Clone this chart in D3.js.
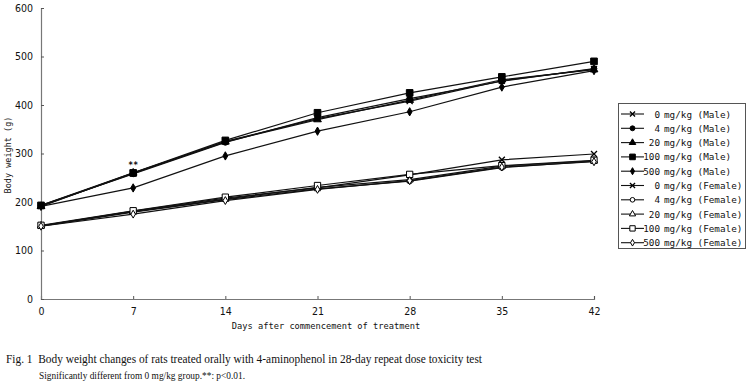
<!DOCTYPE html>
<html><head><meta charset="utf-8">
<script src="https://cdn.jsdelivr.net/npm/d3@7"></script>
<style>body{margin:0;background:#fff}svg{display:block}</style>
</head><body>
<svg id="c" width="750" height="392"></svg>
<script>
const days = [0, 7, 14, 21, 28, 35, 42];
const yTicks = [0, 100, 200, 300, 400, 500, 600];
const doses = ["0", "4", "20", "100", "500"];
const maleValues = [
  [192, 259, 325, 372, 408, 450, 474],
  [193, 258, 323, 374, 413, 449, 475],
  [191, 260, 324, 370, 410, 452, 473],
  [193, 260, 327, 384, 425, 458, 490],
  [191, 229, 295, 346, 386, 437, 471]
];
const femaleValues = [
  [151, 181, 208, 229, 256, 287, 299],
  [150, 179, 205, 227, 243, 271, 284],
  [151, 180, 206, 230, 246, 274, 285],
  [152, 182, 210, 234, 257, 275, 286],
  [150, 175, 203, 226, 244, 272, 283]
];
const markerShapes = ["x", "circle", "triangle", "square", "diamond"];

const svg = d3.select("#c");
const x = d3.scaleLinear().domain([0, 42]).range([41, 594]);
const y = d3.scaleLinear().domain([0, 600]).range([299, 8]);
const axisFont = "'DejaVu Sans Mono','Liberation Mono',monospace";

// axes
const gx = svg.append("g").attr("transform", `translate(0,${y(0)})`)
  .call(d3.axisBottom(x).tickValues(days).tickSize(-3).tickPadding(9).tickFormat(d3.format("d")));
const gy = svg.append("g").attr("transform", `translate(${x(0)},0)`)
  .call(d3.axisLeft(y).tickValues(yTicks).tickSize(-3).tickPadding(8).tickFormat(d3.format("d")));
[gx, gy].forEach(g => {
  g.select(".domain").attr("stroke", "#777").attr("stroke-width", 1.2);
  g.selectAll(".tick line").attr("stroke", "#555");
  g.selectAll(".tick text").attr("font-family", "'Liberation Sans Narrow','DejaVu Sans Condensed',sans-serif")
    .attr("font-size", 10.5).attr("fill", "#111");
});

svg.append("text").attr("transform", `translate(11,155) rotate(-90)`)
  .attr("text-anchor", "middle").attr("font-family", axisFont).attr("font-size", 8.5)
  .attr("fill", "#111").text("Body weight (g)");
svg.append("text").attr("x", 326).attr("y", 329).attr("text-anchor", "middle")
  .attr("font-family", axisFont).attr("font-size", 8.7).attr("fill", "#111")
  .text("Days after commencement of treatment");

function marker(g, shape, filled, cx, cy, scale = 1) {
  const fill = filled ? "#000" : "#fff";
  if (shape === "x") {
    const s = 3 * scale;
    g.append("path").attr("d", `M${cx-s},${cy-s}L${cx+s},${cy+s}M${cx-s},${cy+s}L${cx+s},${cy-s}`)
      .attr("stroke", "#000").attr("stroke-width", 1.3).attr("fill", "none");
  } else {
    const type = {circle: d3.symbolCircle, triangle: d3.symbolTriangle, square: d3.symbolSquare, diamond: d3.symbolDiamond}[shape];
    const size = {circle: 26, triangle: 26, square: 44, diamond: 20}[shape] * scale * scale;
    g.append("path").attr("d", d3.symbol().type(type).size(filled ? size : size * 0.9)())
      .attr("transform", `translate(${cx},${cy})`)
      .attr("fill", fill).attr("stroke", "#000").attr("stroke-width", 1);
  }
}

const line = d3.line().x((d, i) => x(days[i])).y(d => y(d));
const plot = svg.append("g");
function drawSeries(values, filled) {
  values.forEach((vals) => {
    plot.append("path").attr("d", line(vals)).attr("fill", "none")
      .attr("stroke", "#111").attr("stroke-width", 1.2);
  });
  values.forEach((vals, k) => {
    vals.forEach((v, i) => marker(plot, markerShapes[k], filled, x(days[i]), y(v)));
  });
}
drawSeries(femaleValues, false);
drawSeries(maleValues, true);

// significance marker
svg.append("text").attr("x", x(7)).attr("y", y(maleValues[3][1]) - 5).attr("text-anchor", "middle")
  .attr("font-family", axisFont).attr("font-size", 8).attr("font-weight", "bold").attr("fill", "#111").text("**");

// legend
const lg = svg.append("g");
lg.append("rect").attr("x", 618.5).attr("y", 103.5).attr("width", 127).attr("height", 145)
  .attr("fill", "#fff").attr("stroke", "#555").attr("stroke-width", 1);
const legendItems = [];
doses.forEach((d, k) => legendItems.push({dose: d, sex: "Male", k, filled: true}));
doses.forEach((d, k) => legendItems.push({dose: d, sex: "Female", k, filled: false}));
legendItems.forEach((it, i) => {
  const cy = 114 + i * 14.3;
  lg.append("line").attr("x1", 621).attr("x2", 644).attr("y1", cy).attr("y2", cy)
    .attr("stroke", "#111").attr("stroke-width", 1.1);
  marker(lg, markerShapes[it.k], it.filled, 632.5, cy, 0.85);
  lg.append("text").attr("x", 660).attr("y", cy + 3.5).attr("text-anchor", "end")
    .attr("font-family", axisFont).attr("font-size", 9.3).attr("fill", "#111").text(it.dose);
  lg.append("text").attr("x", 664).attr("y", cy + 3.5)
    .attr("font-family", axisFont).attr("font-size", 9.3).attr("fill", "#111")
    .text(`mg/kg (${it.sex})`);
});

// caption
svg.append("text").attr("x", 6).attr("y", 363).attr("font-family", "'Liberation Serif',serif")
  .attr("font-size", 12.5).attr("fill", "#111").attr("xml:space", "preserve")
  .attr("textLength", 476).attr("lengthAdjust", "spacingAndGlyphs")
  .text("Fig. 1  Body weight changes of rats treated orally with 4-aminophenol in 28-day repeat dose toxicity test");
svg.append("text").attr("x", 39).attr("y", 379).attr("font-family", "'Liberation Serif',serif")
  .attr("font-size", 11).attr("fill", "#111")
  .attr("textLength", 206).attr("lengthAdjust", "spacingAndGlyphs")
  .text("Significantly different from 0 mg/kg group.**: p<0.01.");
</script>
</body></html>
